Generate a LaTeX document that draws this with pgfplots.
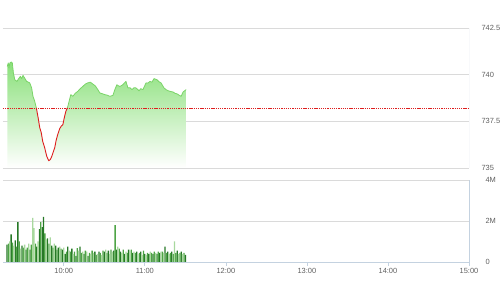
\documentclass[border=0pt]{standalone}
\usepackage{pgfplots}
\pgfplotsset{compat=1.18}
\usepackage{pgfplotstable}
\usepackage{fontspec}
\setmainfont{Liberation Sans}
\definecolor{fillg}{RGB}{138,224,122}
\definecolor{lineg}{RGB}{122,212,104}
\definecolor{liner}{RGB}{222,30,30}
\definecolor{gridc}{RGB}{218,218,218}
\definecolor{bordc}{RGB}{196,210,224}
\definecolor{labc}{RGB}{95,95,95}
\definecolor{volD}{RGB}{38,120,38}
\definecolor{volM}{RGB}{78,164,70}
\definecolor{volL}{RGB}{168,216,158}

\pgfplotstableread{
t p
18.2 740.44
18.9 740.63
19.4 740.36
20.1 740.63
21.2 740.68
21.9 740.63
22.7 740.09
23.7 739.73
25.3 739.64
26.6 739.79
27.9 739.91
28.8 739.79
29.8 739.96
31.0 739.82
32.5 739.64
34.8 739.56
36.2 739.29
37.2 738.84
38.5 738.57
39.7 738.22
}\greenA

\pgfplotstableread{
t p
39.7 738.22
41.0 737.70
42.2 737.16
43.3 736.90
44.4 736.43
45.8 736.10
47.4 735.62
48.9 735.39
50.0 735.45
51.1 735.62
53.3 736.09
54.4 736.50
55.5 736.79
57.0 737.11
58.2 737.25
59.3 737.32
60.4 737.70
61.5 738.03
62.6 738.22
}\redA

\pgfplotstableread{
t p
62.6 738.22
63.0 738.30
65.2 738.93
66.7 738.84
68.5 739.00
70.4 739.11
72.2 739.25
74.1 739.37
76.0 739.50
77.8 739.56
79.6 739.60
81.5 739.50
83.3 739.40
85.2 739.20
86.7 739.02
88.5 738.98
90.4 738.93
92.2 738.90
94.1 738.84
96.4 738.89
97.8 739.20
99.3 739.46
100.5 739.40
101.6 739.37
103.5 739.45
106.0 739.64
107.5 739.29
109.0 739.30
110.5 739.20
112.0 739.30
113.5 739.29
115.7 739.14
117.0 739.25
118.6 739.20
120.9 739.56
122.3 739.55
123.8 739.64
125.3 739.60
126.8 739.79
129.0 739.73
130.5 739.62
132.0 739.56
134.2 739.29
135.7 739.20
137.2 739.14
139.0 739.10
140.9 739.07
142.4 739.00
143.9 738.97
145.4 738.90
146.9 738.84
148.3 739.07
150.6 739.20
}\greenB

\pgfplotstableread{
t v
18 0.85
21 1.35
24 1.05
26 1.95
29 0.80
32 0.60
35 0.60
40 0.75
42 1.60
44 1.70
45 2.20
48 1.15
51 0.80
54 0.80
56 0.70
59 0.60
61 0.40
63 0.75
66 0.65
69 0.30
72 0.75
75 0.40
78 0.30
83 0.50
86 0.50
90 0.50
93 0.55
97 0.55
99 0.60
102 0.50
105 0.40
108 0.60
111 0.45
114 0.50
117 0.50
120 0.40
123 0.40
126 0.40
129 0.40
131 0.45
135 0.75
137 0.50
140 0.50
144 0.55
147 0.50
150 0.35
}\volD

\pgfplotstableread{
t v
19 0.90
22 0.95
25 0.75
27 1.00
30 0.70
33 0.70
36 0.85
39 0.90
43 1.95
46 1.40
49 0.90
52 0.70
55 0.60
58 0.65
62 0.50
65 0.50
68 0.50
70 0.68
73 0.45
76 0.55
79 0.45
81 0.55
84 0.35
87 0.45
89 0.55
92 0.45
95 0.60
98 1.80
101 0.65
104 0.60
107 0.45
110 0.60
113 0.45
116 0.45
119 0.55
122 0.45
125 0.45
127 0.50
130 0.50
133 0.50
136 0.45
139 0.45
141 0.40
143 0.45
146 0.45
149 0.45
}\volM

\pgfplotstableread{
t v
20 1.00
23 0.80
28 0.65
31 0.85
34 0.90
37 2.15
38 1.65
41 1.00
47 1.10
50 1.20
53 0.90
57 0.75
60 0.70
64 0.55
67 0.40
71 0.55
74 0.50
77 0.50
80 0.40
82 0.45
85 0.40
88 0.35
91 0.60
94 0.40
96 0.50
100 0.75
103 0.45
106 0.50
109 0.55
112 0.50
115 0.40
118 0.35
121 0.35
124 0.50
128 0.45
132 0.50
134 0.45
138 0.40
142 1.00
145 0.40
148 0.40
}\volL

\begin{document}
\begin{tikzpicture}
\path[use as bounding box] (0,0) rectangle (501bp,300bp);
% price panel
\begin{axis}[
  at={(3bp,132bp)}, anchor=south west,
  width=466bp, height=140bp, scale only axis,
  xmin=15, xmax=360, ymin=735, ymax=742.5,
  axis line style={draw=none},
  xtick=\empty, xmajorgrids=false,
  ytick={735,737.5,740,742.5},
  yticklabels={735,737.5,740,742.5},
  yticklabel pos=right,
  ymajorgrids, grid style={draw=gridc, line width=0.6pt},
  major tick length=0pt,
  yticklabel style={anchor=west, xshift=9bp, font=\fontsize{7.5}{8}\selectfont, text=labc},
  /pgf/number format/assume math mode=true,
  clip=true,
]
\addplot[draw=none, top color=fillg, bottom color=white] table[x=t,y=p] {
t p
18.2 735
18.2 740.44
18.9 740.63
19.4 740.36
20.1 740.63
21.2 740.68
21.9 740.63
22.7 740.09
23.7 739.73
25.3 739.64
26.6 739.79
27.9 739.91
28.8 739.79
29.8 739.96
31.0 739.82
32.5 739.64
34.8 739.56
36.2 739.29
37.2 738.84
38.5 738.57
39.7 738.22
41.0 737.70
42.2 737.16
43.3 736.90
44.4 736.43
45.8 736.10
47.4 735.62
48.9 735.39
50.0 735.45
51.1 735.62
53.3 736.09
54.4 736.50
55.5 736.79
57.0 737.11
58.2 737.25
59.3 737.32
60.4 737.70
61.5 738.03
62.6 738.22
63.0 738.30
65.2 738.93
66.7 738.84
68.5 739.00
70.4 739.11
72.2 739.25
74.1 739.37
76.0 739.50
77.8 739.56
79.6 739.60
81.5 739.50
83.3 739.40
85.2 739.20
86.7 739.02
88.5 738.98
90.4 738.93
92.2 738.90
94.1 738.84
96.4 738.89
97.8 739.20
99.3 739.46
100.5 739.40
101.6 739.37
103.5 739.45
106.0 739.64
107.5 739.29
109.0 739.30
110.5 739.20
112.0 739.30
113.5 739.29
115.7 739.14
117.0 739.25
118.6 739.20
120.9 739.56
122.3 739.55
123.8 739.64
125.3 739.60
126.8 739.79
129.0 739.73
130.5 739.62
132.0 739.56
134.2 739.29
135.7 739.20
137.2 739.14
139.0 739.10
140.9 739.07
142.4 739.00
143.9 738.97
145.4 738.90
146.9 738.84
148.3 739.07
150.6 739.20
150.6 735
};
\addplot[draw=lineg, line width=0.8pt, line join=round] table[x=t,y=p] {\greenA};
\addplot[draw=lineg, line width=0.8pt, line join=round] table[x=t,y=p] {\greenB};
\addplot[draw=liner, line width=0.9pt, line join=round] table[x=t,y=p] {\redA};
\addplot[draw=liner, line width=0.7pt, dash pattern=on 1.3pt off 0.9pt] coordinates {(15,738.22) (360,738.22)};
\draw[bordc, line width=0.7pt] (rel axis cs:1,0) -- (rel axis cs:1,1);
\end{axis}
% volume panel
\begin{axis}[
  at={(3bp,38bp)}, anchor=south west,
  width=466bp, height=82bp, scale only axis,
  xmin=15, xmax=360, ymin=0, ymax=4,
  axis line style={draw=none},
  xtick={60,120,180,240,300,360},
  xticklabels={10:00,11:00,12:00,13:00,14:00,15:00},
  xtick pos=bottom,
  xtick style={draw=bordc, line width=0.7pt},
  x tick label style={font=\fontsize{7.5}{8}\selectfont, text=labc, yshift=1bp},
  tick align=outside,
  major tick length=4bp,
  ytick={0,2,4},
  yticklabels={0,2M,4M},
  yticklabel pos=right,
  ytick style={draw=none},
  ymajorgrids, grid style={draw=gridc, line width=0.6pt},
  yticklabel style={anchor=west, xshift=9bp, font=\fontsize{7.5}{8}\selectfont, text=labc},
  /pgf/number format/assume math mode=true,
  clip=false,
]
\addplot[ybar, bar width=1.3bp, bar shift=0pt, fill=volD, draw=none] table[x=t,y=v] {\volD};
\addplot[ybar, bar width=1.3bp, bar shift=0pt, fill=volM, draw=none] table[x=t,y=v] {\volM};
\addplot[ybar, bar width=1.3bp, bar shift=0pt, fill=volL, draw=none] table[x=t,y=v] {\volL};
\draw[bordc, line width=0.8pt] (rel axis cs:0,0) -- (rel axis cs:1,0);
\draw[bordc, line width=0.7pt] (rel axis cs:1,0) -- (rel axis cs:1,1);
\end{axis}
\end{tikzpicture}
\end{document}
